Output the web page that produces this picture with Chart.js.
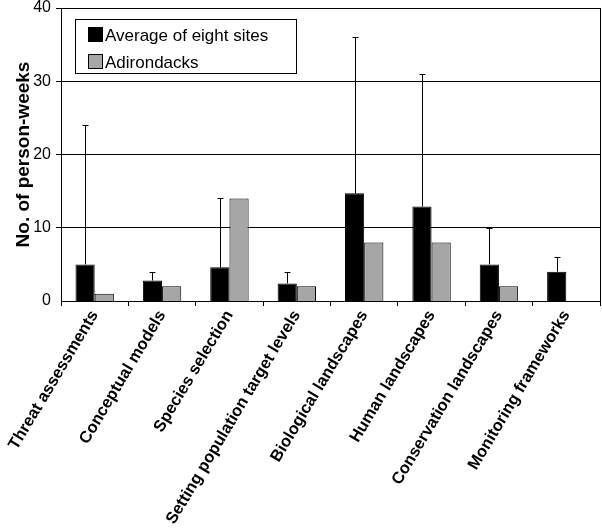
<!DOCTYPE html>
<html>
<head>
<meta charset="utf-8">
<script src="https://cdn.jsdelivr.net/npm/chart.js@4.4.1/dist/chart.umd.min.js"></script>
<style>
  html, body { margin: 0; padding: 0; background: #fff; }
  #wrap { width: 602px; height: 529px; position: relative; }
</style>
</head>
<body>
<div id="wrap"><canvas id="workChart"></canvas></div>
<script>
const categories = [
  'Threat assessments',
  'Conceptual models',
  'Species selection',
  'Setting population target levels',
  'Biological landscapes',
  'Human landscapes',
  'Conservation landscapes',
  'Monitoring frameworks',
];
const averageSites = [5, 2.8, 4.6, 2.4, 14.7, 12.9, 5, 4];
const averageUpper = [24, 4, 14, 4, 36, 31, 10, 6];
const adirondacks = [1, 2, 14, 2, 8, 8, 2, 0];
const yTicks = [0, 10, 20, 30, 40];

const FONT = "'Liberation Sans', Arial, sans-serif";

// error bars (upper only) on the first dataset
const errorBars = {
  id: 'errorBars',
  afterDatasetsDraw(chart) {
    const ctx = chart.ctx;
    const meta = chart.getDatasetMeta(0);
    const y = chart.scales.y;
    ctx.save();
    ctx.strokeStyle = '#000';
    ctx.lineWidth = 1;
    meta.data.forEach((bar, i) => {
      const x = Math.round(bar.x) + 0.5;
      const top = Math.round(y.getPixelForValue(averageUpper[i])) + 0.5;
      ctx.beginPath();
      ctx.moveTo(x, bar.y);
      ctx.lineTo(x, top);
      ctx.moveTo(x - 3, top);
      ctx.lineTo(x + 3, top);
      ctx.stroke();
    });
    ctx.restore();
  },
};

// right border of plot + boxed legend inside the plot
const frameAndLegend = {
  id: 'frameAndLegend',
  afterDraw(chart) {
    const ctx = chart.ctx;
    const a = chart.chartArea;
    ctx.save();
    ctx.strokeStyle = '#000';
    ctx.lineWidth = 1;
    ctx.beginPath();
    ctx.moveTo(Math.round(a.right) + 0.5, a.top);
    ctx.lineTo(Math.round(a.right) + 0.5, a.bottom);
    ctx.stroke();

    // legend box
    const bx = 75.5, by = 19.5, bw = 221, bh = 54;
    ctx.fillStyle = '#fff';
    ctx.fillRect(bx, by, bw, bh);
    ctx.strokeRect(bx, by, bw, bh);
    ctx.font = '17px ' + FONT;
    ctx.textBaseline = 'middle';
    chart.data.datasets.forEach((ds, i) => {
      const cy = 35 + i * 27;
      ctx.fillStyle = ds.backgroundColor;
      ctx.fillRect(88.5, cy - 7.5, 14, 14);
      ctx.strokeStyle = '#000';
      ctx.strokeRect(88.5, cy - 7.5, 14, 14);
      ctx.fillStyle = '#000';
      ctx.fillText(ds.label, 105, cy + 1);
    });
    ctx.restore();
  },
};

new Chart(document.getElementById('workChart'), {
  type: 'bar',
  data: {
    labels: categories,
    datasets: [
      {
        label: 'Average of eight sites',
        data: averageSites,
        backgroundColor: '#000000',
        borderColor: '#000000',
        borderWidth: 1,
      },
      {
        label: 'Adirondacks',
        data: adirondacks,
        backgroundColor: '#a6a6a6',
        borderColor: '#000000',
        borderWidth: 1,
      },
    ],
  },
  options: {
    responsive: true,
    maintainAspectRatio: false,
    animation: false,
    devicePixelRatio: 1,
    layout: { padding: { top: 0, right: 2, bottom: 0, left: 0 } },
    datasets: {
      bar: { categoryPercentage: 0.57, barPercentage: 1.0 },
    },
    plugins: {
      legend: { display: false },
      tooltip: { enabled: false },
    },
    scales: {
      x: {
        grid: {
          offset: true,
          drawOnChartArea: false,
          color: '#000',
          tickLength: 5,
        },
        border: { color: '#000', width: 1 },
        ticks: {
          color: '#000',
          autoSkip: false,
          minRotation: 59,
          maxRotation: 59,
          padding: 1,
          font: { family: FONT, size: 16.5, weight: 'bold' },
        },
        afterFit(scale) {
          scale.height = 228;
          scale.paddingLeft = 0;
          scale.paddingRight = 0;
        },
      },
      y: {
        min: 0,
        max: 40,
        afterBuildTicks(scale) {
          scale.ticks = yTicks.map((v) => ({ value: v }));
        },
        grid: {
          color: '#000',
          tickLength: 5,
          lineWidth: (c) => (c.tick && c.tick.value === 0 ? 0 : 1),
        },
        border: { color: '#000', width: 1 },
        ticks: {
          color: '#000',
          padding: 5,
          font: { family: FONT, size: 16 },
        },
        title: {
          display: true,
          text: 'No. of person-weeks',
          color: '#000',
          padding: { top: 12, bottom: 0 },
          font: { family: FONT, size: 19, weight: 'bold' },
        },
        afterFit(scale) {
          scale.width = 61;
          scale.paddingTop = 8;
          scale.paddingBottom = 0;
        },
      },
    },
  },
  plugins: [errorBars, frameAndLegend],
});
</script>
</body>
</html>
